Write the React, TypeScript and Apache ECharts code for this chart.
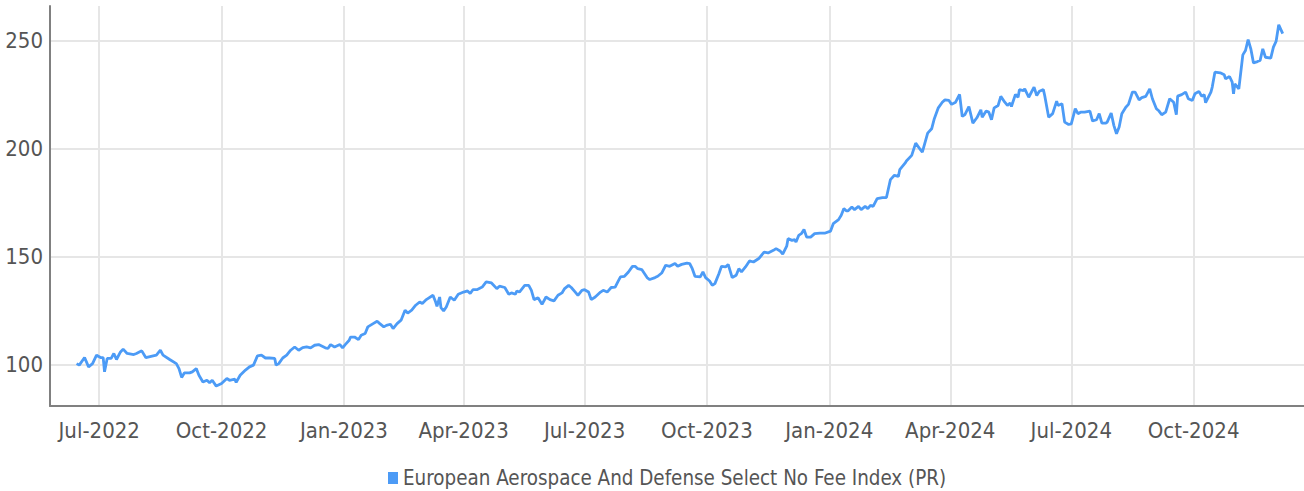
import React, { useEffect, useRef } from "react";
import * as echarts from "echarts";

const SERIES_NAME = "European Aerospace And Defense Select No Fee Index (PR)";

const dates: string[] = [
  "2022-06-14","2022-06-16","2022-06-20","2022-06-23","2022-06-26","2022-06-29","2022-07-02","2022-07-04","2022-07-05","2022-07-07",
  "2022-07-10","2022-07-12","2022-07-14","2022-07-17","2022-07-19","2022-07-22","2022-07-27","2022-07-29","2022-08-02","2022-08-05",
  "2022-08-09","2022-08-13","2022-08-16","2022-08-18","2022-08-23","2022-08-28","2022-08-30","2022-09-01","2022-09-03","2022-09-07",
  "2022-09-09","2022-09-12","2022-09-14","2022-09-17","2022-09-20","2022-09-22","2022-09-24","2022-09-27","2022-10-01","2022-10-05",
  "2022-10-07","2022-10-11","2022-10-12","2022-10-15","2022-10-19","2022-10-22","2022-10-25","2022-10-28","2022-10-31","2022-11-03",
  "2022-11-06","2022-11-10","2022-11-11","2022-11-13","2022-11-16","2022-11-19","2022-11-22","2022-11-25","2022-11-28","2022-12-01",
  "2022-12-04","2022-12-07","2022-12-10","2022-12-13","2022-12-18","2022-12-20","2022-12-22","2022-12-25","2022-12-29","2022-12-31",
  "2023-01-02","2023-01-05","2023-01-06","2023-01-09","2023-01-12","2023-01-14","2023-01-17","2023-01-19","2023-01-23","2023-01-26",
  "2023-01-28","2023-01-31","2023-02-02","2023-02-05","2023-02-07","2023-02-10","2023-02-13","2023-02-16","2023-02-18","2023-02-21",
  "2023-02-24","2023-02-27","2023-03-01","2023-03-04","2023-03-09","2023-03-11","2023-03-12","2023-03-14","2023-03-15","2023-03-17",
  "2023-03-19","2023-03-22","2023-03-25","2023-03-28","2023-04-01","2023-04-04","2023-04-06","2023-04-08","2023-04-11","2023-04-15",
  "2023-04-18","2023-04-22","2023-04-26","2023-04-28","2023-05-02","2023-05-05","2023-05-07","2023-05-10","2023-05-11","2023-05-13",
  "2023-05-17","2023-05-20","2023-05-22","2023-05-24","2023-05-27","2023-05-30","2023-06-02","2023-06-05","2023-06-08","2023-06-11",
  "2023-06-14","2023-06-16","2023-06-19","2023-06-21","2023-06-24","2023-06-26","2023-06-29","2023-07-01","2023-07-04","2023-07-06",
  "2023-07-09","2023-07-13","2023-07-15","2023-07-18","2023-07-21","2023-07-24","2023-07-26","2023-07-28","2023-07-31","2023-08-03",
  "2023-08-06","2023-08-08","2023-08-10","2023-08-13","2023-08-17","2023-08-19","2023-08-23","2023-08-25","2023-08-28","2023-08-31",
  "2023-09-03","2023-09-07","2023-09-09","2023-09-12","2023-09-16","2023-09-18","2023-09-20","2023-09-22","2023-09-26","2023-09-28",
  "2023-09-30","2023-10-03","2023-10-05","2023-10-07","2023-10-10","2023-10-12","2023-10-15","2023-10-17","2023-10-20","2023-10-23",
  "2023-10-25","2023-10-27","2023-10-30","2023-11-02","2023-11-05","2023-11-09","2023-11-13","2023-11-16","2023-11-20","2023-11-22",
  "2023-11-25","2023-11-27","2023-11-30","2023-12-01","2023-12-04","2023-12-06","2023-12-07","2023-12-09","2023-12-11","2023-12-13",
  "2023-12-15","2023-12-18","2023-12-21","2023-12-25","2023-12-29","2024-01-02","2024-01-04","2024-01-08","2024-01-10","2024-01-12",
  "2024-01-14","2024-01-15","2024-01-18","2024-01-20","2024-01-23","2024-01-25","2024-01-28","2024-01-30","2024-02-01","2024-02-03",
  "2024-02-06","2024-02-10","2024-02-13","2024-02-16","2024-02-19","2024-02-22","2024-02-23","2024-02-27","2024-02-28","2024-03-03",
  "2024-03-06","2024-03-09","2024-03-11","2024-03-15","2024-03-18","2024-03-20","2024-03-23","2024-03-26","2024-03-28","2024-03-31",
  "2024-04-02","2024-04-05","2024-04-08","2024-04-10","2024-04-12","2024-04-15","2024-04-18","2024-04-21","2024-04-24","2024-04-25",
  "2024-04-28","2024-04-30","2024-05-02","2024-05-04","2024-05-07","2024-05-09","2024-05-12","2024-05-14","2024-05-16","2024-05-17",
  "2024-05-20","2024-05-22","2024-05-23","2024-05-26","2024-05-27","2024-05-30","2024-06-03","2024-06-05","2024-06-07","2024-06-10",
  "2024-06-11","2024-06-14","2024-06-17","2024-06-20","2024-06-21","2024-06-24","2024-06-26","2024-06-29","2024-07-01","2024-07-04",
  "2024-07-06","2024-07-08","2024-07-11","2024-07-15","2024-07-17","2024-07-20","2024-07-22","2024-07-24","2024-07-27","2024-07-28",
  "2024-07-31","2024-08-02","2024-08-04","2024-08-06","2024-08-08","2024-08-11","2024-08-13","2024-08-16","2024-08-18","2024-08-21",
  "2024-08-23","2024-08-26","2024-08-29","2024-08-31","2024-09-03","2024-09-05","2024-09-07","2024-09-10","2024-09-13","2024-09-16",
  "2024-09-18","2024-09-19","2024-09-22","2024-09-25","2024-09-27","2024-09-30","2024-10-02","2024-10-05","2024-10-07","2024-10-09",
  "2024-10-10","2024-10-14","2024-10-15","2024-10-17","2024-10-21","2024-10-24","2024-10-25","2024-10-28","2024-10-30","2024-10-31",
  "2024-11-01","2024-11-04","2024-11-07","2024-11-09","2024-11-11","2024-11-13","2024-11-15","2024-11-18","2024-11-20","2024-11-22",
  "2024-11-24","2024-11-28","2024-11-30","2024-12-02","2024-12-04","2024-12-07"
];

const values: number[] = [
  100.6,99.9,103.4,99.1,100.6,104.5,103.4,103.4,96.8,103.0,
  103.0,105.3,102.5,106.0,107.3,105.3,104.8,105.3,106.5,103.4,
  104.0,104.5,106.8,104.5,102.5,100.6,98.3,94.2,96.3,96.3,
  96.8,98.3,95.2,92.1,92.9,91.7,92.9,90.2,91.4,93.7,
  92.9,93.4,91.9,95.2,97.6,99.1,99.9,104.2,104.5,103.2,
  103.2,103.0,99.9,100.6,103.2,104.5,106.8,108.3,106.8,108.0,
  108.3,107.9,109.1,109.4,107.9,107.6,109.4,108.3,109.4,107.9,
  109.4,111.4,112.9,112.9,111.7,113.7,114.5,117.6,119.1,120.2,
  119.1,117.6,118.3,118.8,116.8,119.1,120.7,125.3,124.0,125.3,
  127.6,129.1,128.4,130.2,132.2,129.1,127.1,131.4,126.5,125.0,
  126.8,131.4,129.9,132.7,133.7,134.2,133.0,134.8,134.8,136.0,
  138.4,137.9,135.3,136.4,135.8,132.7,133.3,132.7,134.2,133.7,
  136.8,136.8,134.5,130.2,131.1,128.0,131.4,130.2,129.6,132.2,
  133.3,135.3,136.8,135.8,133.7,132.2,134.5,134.8,133.7,130.2,
  131.4,133.7,134.5,133.7,135.8,136.0,138.4,140.7,141.0,143.0,
  145.6,145.6,144.5,144.1,140.4,139.5,140.4,141.0,142.5,146.1,
  145.6,146.9,145.6,146.5,147.1,146.9,144.5,141.0,140.7,143.0,
  140.4,138.8,136.8,137.6,142.2,145.6,145.3,146.5,140.4,141.5,
  144.5,143.0,145.3,148.1,147.6,149.2,152.2,151.8,153.0,153.8,
  152.7,151.2,154.9,158.4,157.6,157.9,156.8,159.9,160.7,162.6,
  159.1,159.1,160.7,161.0,161.0,161.9,165.3,167.2,169.2,172.3,
  171.2,171.2,173.0,171.8,173.3,171.8,173.3,172.3,173.8,173.3,
  176.9,177.4,177.4,185.7,187.7,187.2,190.3,193.3,194.3,196.9,
  202.6,200.0,198.4,207.2,209.2,213.9,218.9,221.5,222.6,222.3,
  220.5,221.5,225.1,214.9,215.8,219.5,211.8,214.3,218.0,214.6,
  217.4,216.9,213.4,218.9,220.0,224.2,221.5,220.0,221.1,219.5,
  225.1,223.8,227.3,226.9,227.7,223.8,228.5,224.6,226.6,227.3,
  224.6,214.6,216.2,222.0,220.0,220.8,212.3,211.2,211.5,218.5,
  216.2,216.9,216.9,217.4,212.8,213.4,216.2,211.8,211.8,212.3,
  216.5,210.8,206.9,210.0,216.2,219.2,220.5,226.2,226.2,222.6,
  223.6,224.2,227.7,223.1,218.5,217.4,215.7,216.9,223.1,221.5,
  215.7,224.3,225.0,226.2,223.1,222.3,225.4,226.5,224.3,225.0,
  221.3,226.2,228.5,235.4,235.1,234.2,232.3,233.4,230.8,225.4,
  230.0,227.7,243.4,245.4,250.5,246.2,239.7,240.3,240.8,246.2,
  242.3,241.9,247.0,249.6,257.3,253.2
];

const X_MIN = "2022-05-25";
const X_MAX = "2024-12-23";
const Y_MIN = 81;
const Y_MAX = 266;

const toTime = (s: string) => {
  const [y, m, d] = s.split("-").map(Number);
  return new Date(y, m - 1, d).getTime();
};

const AXIS_FONT = "'DejaVu Sans Condensed', 'Liberation Sans Narrow', sans-serif";
const DAY = 24 * 3600 * 1000;

export default function App() {
  const ref = useRef<HTMLDivElement>(null);
  useEffect(() => {
    if (!ref.current) return;
    const chart = echarts.init(ref.current, undefined, { renderer: "svg" });
    chart.setOption({
      animation: false,
      backgroundColor: "#ffffff",
      grid: {
        left: 50,
        right: 0,
        top: 6,
        bottom: 85,
        containLabel: false,
        outerBoundsMode: "none",
      },
      legend: {
        data: [SERIES_NAME],
        left: 383,
        top: 463,
        icon: "rect",
        itemWidth: 10,
        itemHeight: 12,
        itemGap: 6,
        textStyle: { color: "#555555", fontSize: 20.4, fontFamily: AXIS_FONT },
      },
      xAxis: {
        type: "time",
        min: toTime(X_MIN),
        max: toTime(X_MAX),
        minInterval: 94 * DAY,
        maxInterval: 94 * DAY,
        axisLine: { show: true, lineStyle: { color: "#808080", width: 2 } },
        axisTick: { show: false },
        axisLabel: {
          formatter: "{MMM}-{yyyy}",
          color: "#555555",
          fontSize: 22,
          fontFamily: AXIS_FONT,
          margin: 13,
          showMinLabel: false,
          showMaxLabel: false,
          hideOverlap: false,
        },
        splitLine: {
          show: true,
          showMinLine: false,
          showMaxLine: false,
          lineStyle: { color: "#e6e6e6", width: 2 },
        },
      },
      yAxis: {
        type: "value",
        min: Y_MIN,
        max: Y_MAX,
        splitNumber: 4,
        axisLine: { show: true, lineStyle: { color: "#808080", width: 2 } },
        axisTick: { show: false },
        axisLabel: {
          color: "#555555",
          fontSize: 22,
          fontFamily: AXIS_FONT,
          margin: 7,
          showMinLabel: false,
          showMaxLabel: false,
        },
        splitLine: {
          show: true,
          showMinLine: false,
          showMaxLine: false,
          lineStyle: { color: "#e6e6e6", width: 2 },
        },
      },
      series: [
        {
          name: SERIES_NAME,
          type: "line",
          data: dates.map((d, i) => [toTime(d), values[i]]),
          showSymbol: false,
          symbol: "none",
          lineStyle: { color: "#4c9bf6", width: 2.8 },
          itemStyle: { color: "#4c9bf6" },
        },
      ],
    });
    return () => chart.dispose();
  }, []);
  return (
    <div
      ref={ref}
      style={{ position: "absolute", left: 0, top: 0, width: 1304, height: 491 }}
    />
  );
}
